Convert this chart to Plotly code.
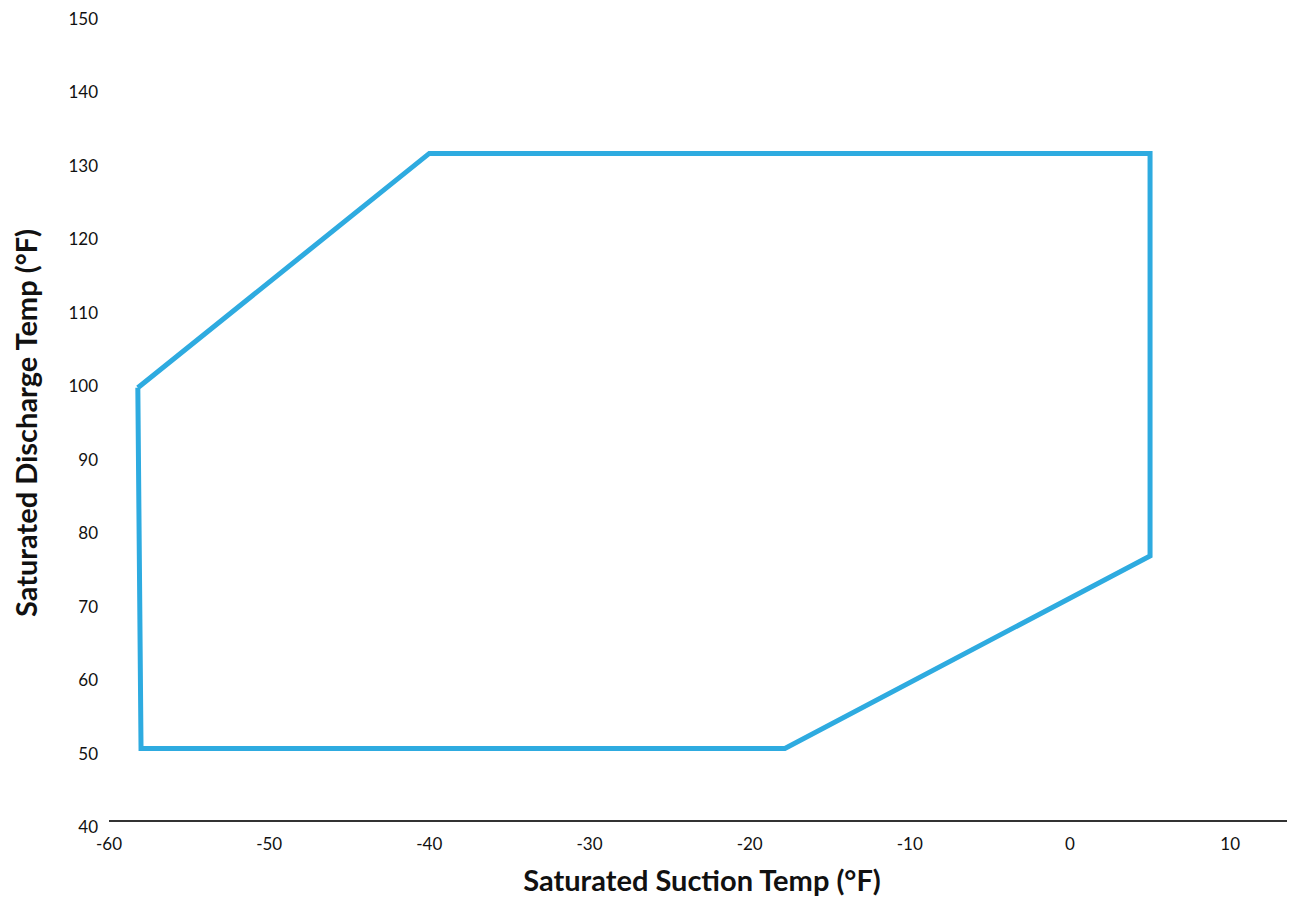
import plotly.graph_objects as go

suction_temp = [-58.2, -40, 5, 5, -17.8, -58, -58.2]
discharge_temp = [99.8, 131.7, 131.7, 76.9, 50.7, 50.7, 99.8]

x_ticks = [-60, -50, -40, -30, -20, -10, 0, 10]
y_ticks = [40, 50, 60, 70, 80, 90, 100, 110, 120, 130, 140, 150]

fig = go.Figure()
fig.add_trace(go.Scatter(
    x=suction_temp, y=discharge_temp, mode="lines",
    line=dict(color="#2EABE0", width=5),
    hoverinfo="skip", showlegend=False,
))

font_family = "Lato, 'Open Sans', sans-serif"
fig.update_layout(
    width=1287, height=889,
    margin=dict(l=100, r=0, t=10, b=69),
    paper_bgcolor="white", plot_bgcolor="white",
    font=dict(family=font_family, color="#111111", size=17),
    xaxis=dict(
        range=[-60, 14.05], tickvals=x_ticks, ticktext=[str(v) for v in x_ticks],
        anchor="free", position=0.0074,
        showline=True, linecolor="#333333", linewidth=2, showgrid=False, zeroline=False,
        ticks="", ticklabelstandoff=8,
        title=dict(text="<b>Saturated Suction Temp (°F)</b>", font=dict(size=29, family=font_family, color="#111111"), standoff=22),
    ),
    yaxis=dict(
        range=[40, 150], tickvals=y_ticks, ticktext=[str(v) for v in y_ticks],
        showline=False, showgrid=False, zeroline=False, ticks="", ticklabelstandoff=10,
        ticklabeloverflow="allow",
        title=dict(text="<b>Saturated Discharge Temp (°F)</b>", font=dict(size=29, family=font_family, color="#111111"), standoff=40),
    ),
)
fig.write_html("out.html")
